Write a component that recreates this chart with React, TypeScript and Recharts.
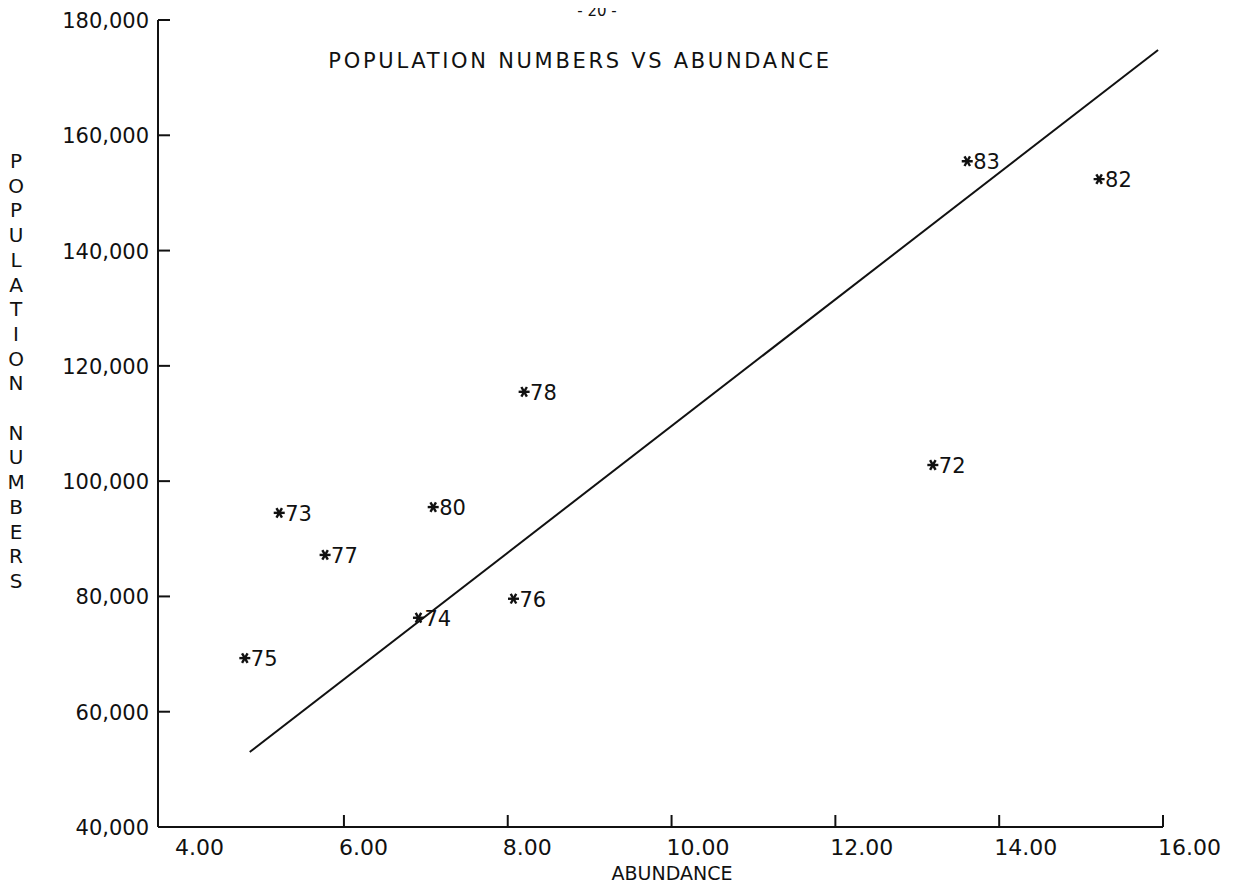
import React from "react";
import { ScatterChart, Scatter, XAxis, YAxis } from "recharts";

// year labels and the values
const years = ["75", "73", "77", "80", "74", "78", "76", "72", "83", "82"];
const abundance = [4.79, 5.21, 5.77, 7.09, 6.91, 8.2, 8.07, 13.19, 13.61, 15.22];
const population = [69300, 94500, 87200, 95500, 76300, 115500, 79600, 102800, 155500, 152400];

// fitted line end points
const fitAbundance = [4.85, 15.94];
const fitPopulation = [53000, 174800];

const xTicks = [4, 6, 8, 10, 12, 14, 16];
const yTicks = [40000, 60000, 80000, 100000, 120000, 140000, 160000, 180000];

const yLetters = "POPULATION NUMBERS".split("");

const points = years.map((year, i) => ({ year, x: abundance[i], y: population[i] }));
const fit = fitAbundance.map((x, i) => ({ x, y: fitPopulation[i] }));

const FONT = "'DejaVu Sans', sans-serif";
const INK = "#111";

function StarLabel(props: any) {
  const { cx, cy, payload } = props;
  const r = 5.5;
  return (
    <g>
      <line x1={cx - r} y1={cy} x2={cx + r} y2={cy} stroke={INK} strokeWidth={2.4} />
      <line x1={cx - r * 0.5} y1={cy - r * 0.87} x2={cx + r * 0.5} y2={cy + r * 0.87} stroke={INK} strokeWidth={2.4} />
      <line x1={cx + r * 0.5} y1={cy - r * 0.87} x2={cx - r * 0.5} y2={cy + r * 0.87} stroke={INK} strokeWidth={2.4} />
      <text x={cx + 6} y={cy + 8} fontSize={21} fontFamily={FONT} fill={INK}>
        {payload.year}
      </text>
    </g>
  );
}

function XTick(props: any) {
  const { x, y, payload } = props;
  return (
    <g>
      {payload.value !== 4 && <line x1={x} y1={y} x2={x} y2={y - 12} stroke={INK} strokeWidth={2} />}
      <text x={x - 5} y={y + 28} fontSize={22} fontFamily={FONT} fill={INK}>
        {payload.value.toFixed(2)}
      </text>
    </g>
  );
}

function YTick(props: any) {
  const { x, y, payload } = props;
  return (
    <g>
      <line x1={x} y1={y} x2={x + 12} y2={y} stroke={INK} strokeWidth={2} />
      <text x={x - 9} y={y + 8} textAnchor="end" fontSize={21} fontFamily={FONT} fill={INK}>
        {payload.value.toLocaleString("en-US")}
      </text>
    </g>
  );
}

export default function App() {
  return (
    <div style={{ position: "relative", width: 1221, height: 874, background: "#fff" }}>
      <ScatterChart width={1221} height={874} margin={{ top: 12, right: 66, left: 0, bottom: 0 }}>
        <XAxis
          type="number"
          dataKey="x"
          domain={[3.73, 16]}
          ticks={xTicks}
          interval={0}
          height={55}
          tickSize={0}
          tickMargin={0}
          tick={<XTick />}
          axisLine={{ stroke: INK, strokeWidth: 2 }}
          tickLine={false}
          allowDataOverflow
        />
        <YAxis
          type="number"
          dataKey="y"
          domain={[40000, 180000]}
          ticks={yTicks}
          interval={0}
          width={150}
          tickSize={0}
          tickMargin={0}
          tick={<YTick />}
          axisLine={{ stroke: INK, strokeWidth: 2 }}
          tickLine={false}
        />
        <Scatter
          data={fit}
          line={{ stroke: INK, strokeWidth: 2 }}
          shape={() => <g />}
          isAnimationActive={false}
        />
        <Scatter data={points} shape={<StarLabel />} isAnimationActive={false} />
      </ScatterChart>
      <svg
        width={1221}
        height={882}
        style={{ position: "absolute", left: 0, top: 0, pointerEvents: "none", overflow: "visible" }}
      >
        <text x={589} y={8} textAnchor="middle" fontSize={15} fontFamily={FONT} fill={INK}>
          - 20 -
        </text>
        <text x={572} y={60} textAnchor="middle" fontSize={21} fontFamily={FONT} letterSpacing={2.7} fill={INK}>
          POPULATION NUMBERS VS ABUNDANCE
        </text>
        <text x={664} y={872} textAnchor="middle" fontSize={19} fontFamily={FONT} fill={INK}>
          ABUNDANCE
        </text>
        {yLetters.map((ch, i) => (
          <text key={i} x={8} y={152 + i * 24.7 + 8} textAnchor="middle" fontSize={20} fontFamily={FONT} fill={INK}>
            {ch}
          </text>
        ))}
      </svg>
    </div>
  );
}
